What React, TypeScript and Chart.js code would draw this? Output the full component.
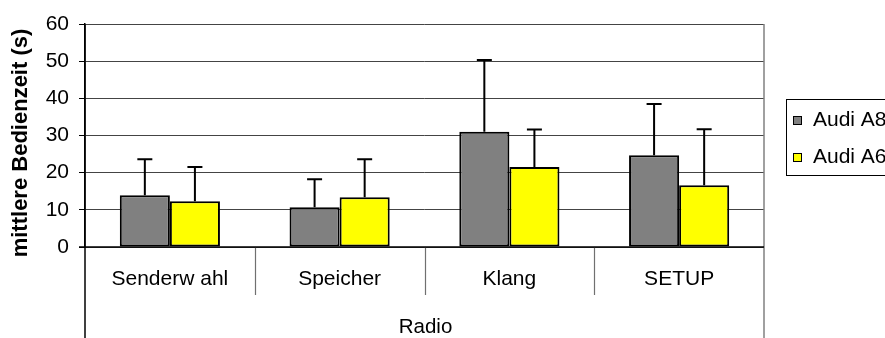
import React, { useEffect, useRef } from "react";
import { Chart, registerables } from "chart.js";

Chart.register(...registerables);

const categories = ["Senderw ahl", "Speicher", "Klang", "SETUP"];
const groupLabel = "Radio";
const seriesNames = ["Audi A8", "Audi A6"];
const a8Values = [13.9, 10.7, 31.0, 24.7];
const a6Values = [12.3, 13.4, 21.5, 16.6];
const a8Errors = [9.7, 7.5, 19.3, 13.8];
const a6Errors = [9.2, 10.2, 10.1, 15.1];
const yMin = 0;
const yMax = 60;
const yStep = 10;
const yTitle = "mittlere Bedienzeit (s)";

const FONT = "'Liberation Sans', Arial, sans-serif";
const seriesColors = ["#808080", "#FFFF00"];

const decorPlugin = {
  id: "decor",
  afterDatasetsDraw(chart: any) {
    const { ctx, scales } = chart;
    const y = scales.y;
    ctx.save();
    ctx.strokeStyle = "#000";
    ctx.lineWidth = 2;
    chart.data.datasets.forEach((ds: any, i: number) => {
      const meta = chart.getDatasetMeta(i);
      meta.data.forEach((bar: any, j: number) => {
        const top = y.getPixelForValue(ds.data[j] + ds.errors[j]);
        ctx.beginPath();
        ctx.moveTo(bar.x, bar.y);
        ctx.lineTo(bar.x, top);
        ctx.moveTo(bar.x - 7.5, top);
        ctx.lineTo(bar.x + 7.5, top);
        ctx.stroke();
      });
    });
    ctx.restore();
  },
  afterDraw(chart: any) {
    const { ctx, chartArea } = chart;
    const { left, right, top, bottom } = chartArea;
    const H = chart.height;
    ctx.save();
    // right border
    ctx.strokeStyle = "#808080";
    ctx.lineWidth = 1.5;
    ctx.beginPath();
    ctx.moveTo(right, top);
    ctx.lineTo(right, H);
    ctx.stroke();
    // left extension
    ctx.strokeStyle = "#000";
    ctx.lineWidth = 1.5;
    ctx.beginPath();
    ctx.moveTo(left, top);
    ctx.lineTo(left, H);
    ctx.stroke();
    // category dividers
    const w = (right - left) / categories.length;
    ctx.strokeStyle = "#707070";
    ctx.lineWidth = 1.2;
    for (let k = 1; k < categories.length; k++) {
      const x = Math.round(left + k * w) + 0.5;
      ctx.beginPath();
      ctx.moveTo(x, bottom);
      ctx.lineTo(x, 295);
      ctx.stroke();
    }
    // x axis line
    ctx.strokeStyle = "#000";
    ctx.lineWidth = 1.5;
    ctx.beginPath();
    ctx.moveTo(left - 6, bottom);
    ctx.lineTo(right, bottom);
    ctx.stroke();
    // group label
    ctx.fillStyle = "#000";
    ctx.font = `20.5px ${FONT}`;
    ctx.textAlign = "center";
    ctx.textBaseline = "alphabetic";
    ctx.fillText(groupLabel, (left + right) / 2 + 1, 333);
    // y title
    ctx.save();
    ctx.translate(21.4, 143);
    ctx.rotate(-Math.PI / 2);
    ctx.font = `bold 22px ${FONT}`;
    ctx.textAlign = "center";
    ctx.textBaseline = "middle";
    ctx.fillText(yTitle, 0, 0);
    ctx.restore();
    // legend
    ctx.strokeStyle = "#000";
    ctx.lineWidth = 1;
    ctx.strokeRect(786.5, 99.5, 120, 76);
    const baselines = [125.5, 162.5];
    chart.data.datasets.forEach((ds: any, i: number) => {
      const by = baselines[i];
      ctx.fillStyle = ds.backgroundColor;
      ctx.fillRect(793, by - 9.5, 9, 9);
      ctx.strokeStyle = "#000";
      ctx.strokeRect(793.5, by - 9, 8, 8);
      ctx.fillStyle = "#000";
      ctx.font = `21px ${FONT}`;
      ctx.textAlign = "left";
      ctx.textBaseline = "alphabetic";
      ctx.fillText(ds.label, 813, by);
    });
    ctx.restore();
  },
};

export default function App() {
  const ref = useRef<HTMLCanvasElement | null>(null);
  useEffect(() => {
    document.body.style.margin = "0";
    const canvas = ref.current;
    if (!canvas) return;
    const chart = new Chart(canvas, {
      type: "bar",
      data: {
        labels: categories,
        datasets: [
          {
            label: seriesNames[0],
            data: a8Values,
            errors: a8Errors,
            backgroundColor: seriesColors[0],
            borderColor: "#000",
            borderWidth: 2,
            borderSkipped: false,
          } as any,
          {
            label: seriesNames[1],
            data: a6Values,
            errors: a6Errors,
            backgroundColor: seriesColors[1],
            borderColor: "#000",
            borderWidth: 2,
            borderSkipped: false,
          } as any,
        ],
      },
      options: {
        responsive: false,
        animation: false,
        devicePixelRatio: 1,
        layout: { padding: { top: 24, right: 121, left: 0, bottom: 0 } },
        datasets: { bar: { categoryPercentage: 0.59, barPercentage: 1.0 } },
        plugins: { legend: { display: false }, tooltip: { enabled: false } },
        scales: {
          x: {
            grid: { display: false },
            border: { display: false },
            ticks: {
              color: "#000",
              font: { family: FONT, size: 21 },
              padding: 12,
              maxRotation: 0,
              autoSkip: false,
            },
            afterFit(scale: any) {
              scale.height = 91;
            },
          },
          y: {
            min: yMin,
            max: yMax,
            grid: {
              color: "#444",
              lineWidth: 1,
              tickLength: 6,
              tickColor: "#000",
            },
            border: { display: true, color: "#000", width: 1.5 },
            ticks: {
              stepSize: yStep,
              color: "#000",
              font: { family: FONT, size: 21 },
              padding: 10,
            },
            afterFit(scale: any) {
              scale.width = 85;
            },
          },
        },
      },
      plugins: [decorPlugin],
    });
    return () => chart.destroy();
  }, []);
  return <canvas ref={ref} width={885} height={338} style={{ display: "block" }} />;
}
